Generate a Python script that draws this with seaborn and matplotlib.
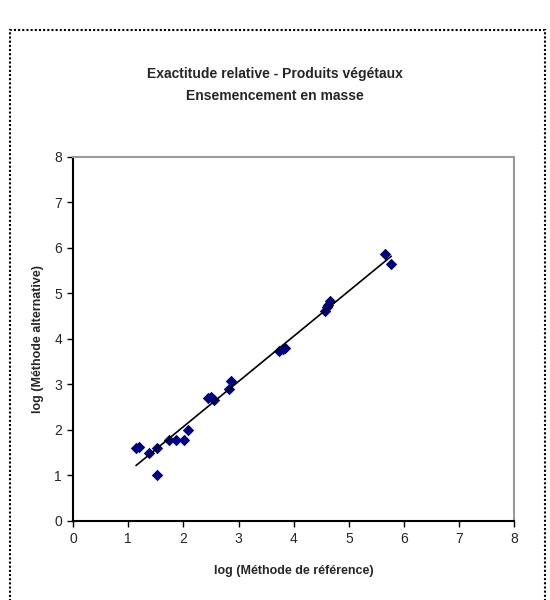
import numpy as np
import pandas as pd
import seaborn as sns
import matplotlib.pyplot as plt
from matplotlib.patches import Rectangle

# valeurs (log ufc)
log_ref = [1.14, 1.20, 1.38, 1.52, 1.52, 1.73, 1.87, 2.01, 2.09, 2.45, 2.50, 2.55,
           2.83, 2.86, 3.74, 3.80, 3.85, 4.56, 4.60, 4.63, 4.65, 5.66, 5.77]
log_alt = [1.59, 1.62, 1.49, 1.60, 1.00, 1.78, 1.77, 1.78, 1.99, 2.70, 2.72, 2.65,
           2.89, 3.07, 3.73, 3.78, 3.80, 4.61, 4.70, 4.75, 4.82, 5.85, 5.63]

title = "Exactitude relative - Produits végétaux\nEnsemencement en masse"
xlab = "log (Méthode de référence)"
ylab = "log (Méthode alternative)"
ticks = [0, 1, 2, 3, 4, 5, 6, 7, 8]

df = pd.DataFrame({"ref": log_ref, "alt": log_alt})

sns.set_style("white")
plt.rcParams["font.family"] = ["Liberation Sans", "DejaVu Sans"]

fig = plt.figure(figsize=(5.5, 6), dpi=100)
ax = fig.add_axes([0.133, 0.132, 0.802, 0.607])

sns.regplot(data=df, x="ref", y="alt", ax=ax, ci=None, marker="D",
            scatter_kws=dict(color="#000080", s=34, linewidths=0, alpha=1),
            line_kws=dict(color="black", lw=1.2))

ax.set_xlim(0, 8)
ax.set_ylim(0, 8)
ax.set_xticks(ticks)
ax.set_yticks(ticks)
ax.tick_params(direction="out", length=4, width=1, color="black",
               labelsize=10, bottom=True, left=True, pad=4)
ax.set_xlabel(xlab, fontsize=9, fontweight="bold", labelpad=14)
ax.set_ylabel(ylab, fontsize=9, fontweight="bold", labelpad=7)

ax.spines["left"].set_color("black")
ax.spines["left"].set_linewidth(1.5)
ax.spines["bottom"].set_color("black")
ax.spines["bottom"].set_linewidth(1.5)
ax.spines["bottom"].set_linestyle((0, (2, 1)))
for s in ["top", "right"]:
    ax.spines[s].set_color("#999999")
    ax.spines[s].set_linewidth(1.5)
    ax.spines[s].set_linestyle((0, (2, 1)))

fig.text(0.5, 0.858, title, ha="center", va="center", fontsize=10,
         fontweight="bold", linespacing=1.7)

fig.patches.append(Rectangle((0.018, -0.01), 0.972, 0.96, transform=fig.transFigure,
                             fill=False, edgecolor="black", lw=1.5,
                             linestyle=(0, (1, 1))))

fig.savefig("out.png", dpi=100)
